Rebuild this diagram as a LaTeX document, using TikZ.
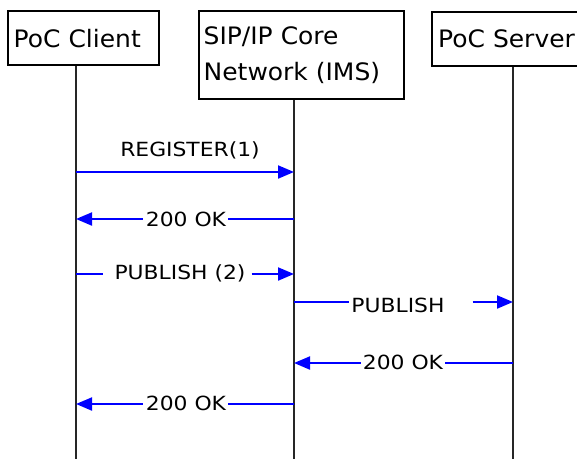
\documentclass[tikz,border=0pt]{standalone}
\usepackage{fontspec}
\setmainfont{DejaVu Sans}
\newfontfamily\boxfont[FakeStretch=1.04]{DejaVu Sans}
\newfontfamily\labfont[FakeStretch=1.12]{DejaVu Sans}
\usetikzlibrary{arrows.meta,calc}
\begin{document}
\begin{tikzpicture}[x=1pt,y=-1pt,
  actor/.style={draw=black, line width=2.4pt, rectangle, anchor=north west, align=left,
    font=\boxfont\fontsize{24}{36}\selectfont, inner ysep=0pt},
  life/.style={draw=black!85, line width=2.8pt},
  msg/.style={draw=blue, line width=2pt},
  tip/.style={-{Triangle[length=16pt,width=13pt]}},
  lab/.style={font=\labfont\fontsize{19.5}{22}\selectfont, inner sep=0pt, text=black}]
\useasboundingbox (0,0) rectangle (577,458);
\clip (0,0) rectangle (577,458);
\fill[white] (0,0) rectangle (577,458);

% actors
\node[actor, text width=140pt, inner xsep=5.5pt, minimum height=54pt] (client) at (7,10) {PoC Client};
\node[actor, text width=196pt, inner xsep=4.5pt, minimum height=88pt] (sip) at (198,10) {SIP/IP Core\\Network (IMS)};
\node[actor, text width=146pt, inner xsep=6pt, minimum height=54pt] (server) at (431,11) {PoC Server};

% lifelines
\coordinate (cend) at (76,460);
\coordinate (send) at (294,460);
\coordinate (vend) at (513,460);
\draw[life] (client.south -| cend) -- (cend);
\draw[life] (sip.south -| send) -- (send);
\draw[life] (server.south -| vend) -- (vend);

% 1 REGISTER(1)
\coordinate (cA) at (76,172);
\coordinate (sA) at (294,172);
\node[lab] (lA) at (190,150) {REGISTER(1)};
\draw[msg,tip] (cA) -- (sA);

% 2 200 OK
\coordinate (sB) at (294,219);
\coordinate (cB) at (76,219);
\node[lab] (lB) at (186,219) {200 OK};
\draw[msg] (sB) -- ($(lB.east |- sB)+(2,0)$);
\draw[msg,tip] ($(lB.west |- sB)+(-3,0)$) -- (cB);

% 3 PUBLISH (2)
\coordinate (cC) at (76,274);
\coordinate (sC) at (294,274);
\node[lab] (lC) at (180,273) {PUBLISH (2)};
\draw[msg] (cC) -- ($(lC.west |- cC)+(-11,0)$);
\draw[msg,tip] ($(lC.east |- cC)+(6,0)$) -- (sC);

% 4 PUBLISH
\coordinate (sD) at (294,302);
\coordinate (vD) at (513,302);
\node[lab] (lD) at (398,305) {PUBLISH};
\draw[msg] (sD) -- ($(lD.west |- sD)+(-2,0)$);
\draw[msg,tip] ($(lD.east |- sD)+(28,0)$) -- (vD);

% 5 200 OK
\coordinate (vE) at (513,363);
\coordinate (sE) at (294,363);
\node[lab] (lE) at (403,362) {200 OK};
\draw[msg] (vE) -- ($(lE.east |- vE)+(2,0)$);
\draw[msg,tip] ($(lE.west |- vE)+(-2,0)$) -- (sE);

% 6 200 OK
\coordinate (sF) at (294,404);
\coordinate (cF) at (76,404);
\node[lab] (lF) at (186,403) {200 OK};
\draw[msg] (sF) -- ($(lF.east |- sF)+(2,0)$);
\draw[msg,tip] ($(lF.west |- sF)+(-3,0)$) -- (cF);
\end{tikzpicture}
\end{document}
